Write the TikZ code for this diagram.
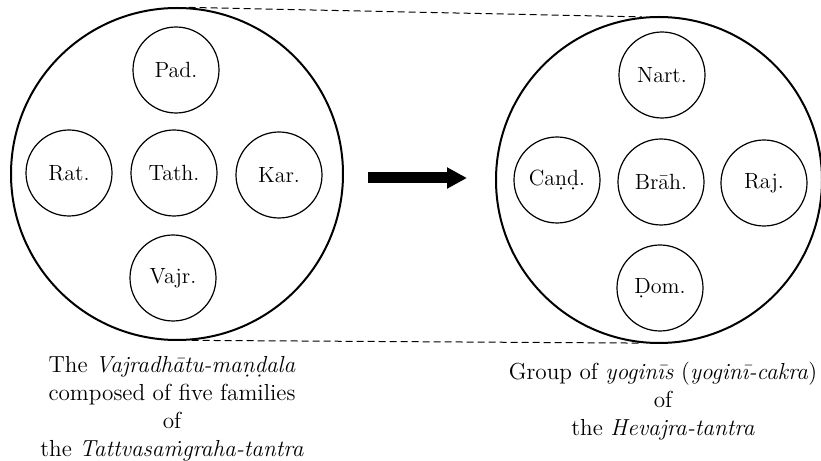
\documentclass[tikz,border=0pt]{standalone}
\usepackage{amsmath}
\usepackage{tikz}
\usetikzlibrary{arrows.meta}

\tikzset{
  family/.style={circle, draw, line width=0.6pt, minimum size=43pt, inner sep=0pt,
    font=\fontsize{11}{13}\selectfont},
  mandala/.style={circle, draw, line width=1pt, inner sep=0pt},
  caption/.style={align=center, font=\fontsize{11.6}{14}\selectfont},
}

\begin{document}
\begin{tikzpicture}[x=0.5pt,y=0.5pt]
  \useasboundingbox (0,0) rectangle (821,461);
  % left: the five families
  \node [mandala, minimum size=166pt] (vajradhatu) at (177,287) {};
  \node [family] (pad) at (176,391) {Pad.};
  \node [family] (rat) at (69,288) {Rat.};
  \node [family] (tath) at (174,288) {Tath.};
  \node [family] (kar) at (279,286) {Kar.};
  \node [family] (vajr) at (173,183) {Vajr.};
  % right: the yoginis
  \node [mandala, minimum size=163pt] (yoginicakra) at (659,281) {};
  \node [family] (nart) at (662,386) {Nart.};
  \node [family] (cand) at (557,281) {Ca\d{n}\d{d}.};
  \node [family] (brah) at (661,279) {Br\=ah.};
  \node [family] (raj) at (764,278) {Raj.};
  \node [family] (dom) at (660,173) {\d{D}om.};
  % dashed links
  \draw [dashed, dash pattern=on 3.5pt off 2pt, line width=0.5pt] (vajradhatu.86) -- (yoginicakra.96);
  \draw [dashed, dash pattern=on 3.5pt off 2pt, line width=0.5pt] (vajradhatu.-85) -- (yoginicakra.-96);
  % arrow
  \coordinate (arrowtail) at (368,283);
  \coordinate (arrowhead) at (467,283);
  \draw [line width=5.5pt, -{Triangle[length=10pt,width=10pt]}] (arrowtail) -- (arrowhead);
  % captions
  \node [caption] (leftcap) at (172,52) {The \textit{Vajradh\=atu-ma\d{n}\d{d}ala}\\
    composed of five families\\ of\\ the \textit{Tattvasa\.mgraha-tantra}};
  \node [caption] (rightcap) at (663,60) {Group of \textit{yogin\={\i}s} (\textit{yogin\={\i}-cakra})\\
    of\\ the \textit{Hevajra-tantra}};
\end{tikzpicture}
\end{document}
